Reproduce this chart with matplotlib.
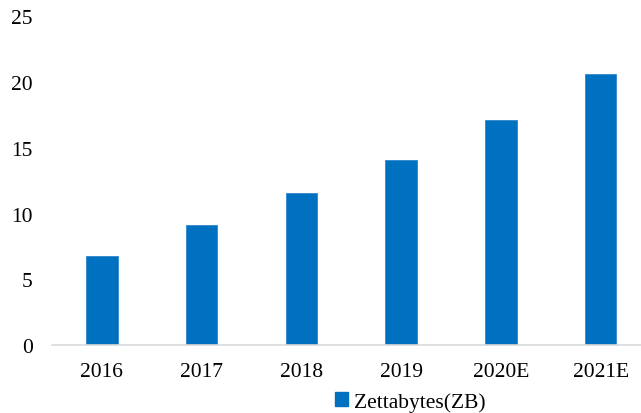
import matplotlib.pyplot as plt
from matplotlib.patches import Patch

years = ["2016", "2017", "2018", "2019", "2020E", "2021E"]
zettabytes = [6.8, 9.1, 11.6, 14.1, 17.1, 20.6]
series_name = "Zettabytes(ZB)"

plt.rcParams['font.family'] = ['Liberation Serif', 'DejaVu Serif']

fig = plt.figure(figsize=(6.41, 4.14), dpi=100)
ax = fig.add_axes([52 / 641, 0.1643, 598.5 / 641, 0.958 - 0.1643])

bar_color = "#0070C0"
x = range(len(years))
ax.bar(x, zettabytes, width=0.316, color=bar_color, edgecolor="#2f86cf", linewidth=0.6)

ax.set_xlim(-0.5, len(years) - 0.5)
ax.set_ylim(0, 25)
ax.set_yticks([0, 5, 10, 15, 20, 25])
ax.set_xticks(list(x))
ax.set_xticklabels(years)

for side in ["top", "right", "left"]:
    ax.spines[side].set_visible(False)
ax.spines["bottom"].set_color("#d9d9d9")
ax.spines["bottom"].set_linewidth(1.2)

ax.tick_params(axis="both", length=0, labelsize=15.5, colors="#000000")
ax.tick_params(axis="y", pad=14)
ax.tick_params(axis="x", pad=12)

fig.legend(handles=[Patch(facecolor=bar_color, edgecolor=bar_color)],
           labels=[series_name], loc="center", bbox_to_anchor=(410 / 641, 0.027),
           frameon=False, fontsize=15.5, handlelength=0.65, handleheight=0.65,
           handletextpad=0.25, borderpad=0, borderaxespad=0)

fig.savefig("out.png", dpi=100)
